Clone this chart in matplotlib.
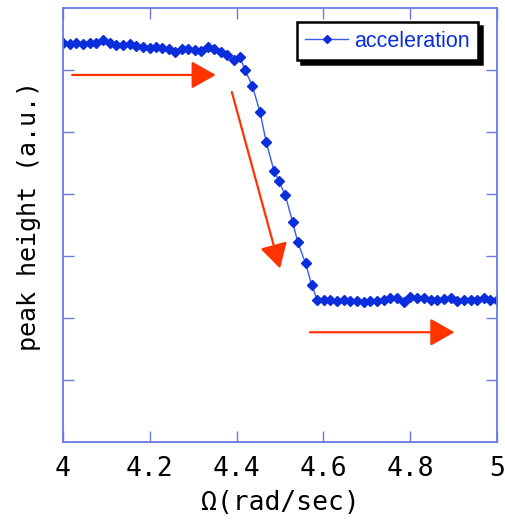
import matplotlib
matplotlib.use("Agg")
import matplotlib.pyplot as plt

# --- data ---
omega = [4.000, 4.016, 4.031, 4.046, 4.062, 4.077, 4.092, 4.108, 4.123, 4.138,
         4.154, 4.169, 4.184, 4.200, 4.215, 4.229, 4.244, 4.259, 4.274, 4.289,
         4.304, 4.319, 4.334, 4.348, 4.363, 4.378, 4.393, 4.408,
         4.419, 4.436, 4.454, 4.468, 4.486, 4.497, 4.512, 4.529, 4.541, 4.559,
         4.573, 4.586,
         4.601, 4.616, 4.631, 4.647, 4.662, 4.677, 4.693, 4.708, 4.724, 4.739,
         4.754, 4.770, 4.785, 4.800, 4.816, 4.831, 4.847, 4.862, 4.877, 4.893,
         4.908, 4.923, 4.939, 4.954, 4.969, 4.985, 4.999]
peak = [6.431, 6.419, 6.440, 6.419, 6.440, 6.431, 6.476, 6.431, 6.403, 6.403,
        6.419, 6.387, 6.366, 6.347, 6.371, 6.360, 6.339, 6.298, 6.335, 6.335,
        6.315, 6.310, 6.363, 6.342, 6.285, 6.234, 6.161, 6.202,
        6.008, 5.747, 5.323, 4.844, 4.376, 4.215, 3.984, 3.553, 3.221, 2.882,
        2.532, 2.290,
        2.290, 2.290, 2.274, 2.290, 2.282, 2.274, 2.263, 2.274, 2.274, 2.290,
        2.318, 2.315, 2.266, 2.339, 2.318, 2.315, 2.290, 2.290, 2.302, 2.318,
        2.274, 2.290, 2.290, 2.290, 2.318, 2.290, 2.290]
series_label = "acceleration"
xticks = [4.0, 4.2, 4.4, 4.6, 4.8, 5.0]
xtick_labels = ["4", "4.2", "4.4", "4.6", "4.8", "5"]
yticks = [1, 2, 3, 4, 5, 6]
xlabel = "Ω(rad/sec)"
ylabel = "peak height (a.u.)"
# arrows: (start x, start y, end x, end y) in data units
arrows = [(4.021, 5.92, 4.352, 5.92),
          (4.389, 5.645, 4.500, 2.80),
          (4.569, 1.77, 4.902, 1.77)]

spine_col = "#6a78e6"
mark_col = "#0a2edc"
line_col = "#3a5af0"
arrow_col = "#ff3300"

fig = plt.figure(figsize=(5.05, 5.20), dpi=100)
ax = fig.add_axes([63/505, 1-442/520, 434/505, 434/520])

ax.plot(omega, peak, color=line_col, lw=1.0, marker="D", markersize=5.4,
        markerfacecolor=mark_col, markeredgecolor=mark_col, label=series_label)

for (x0, y0, x1, y1) in arrows:
    ax.annotate("", xy=(x1, y1), xytext=(x0, y0),
                arrowprops=dict(arrowstyle="-|>,head_length=15,head_width=8.5",
                                mutation_scale=1, color=arrow_col, lw=1.6,
                                shrinkA=0, shrinkB=0))

ax.set_xlim(4.0, 5.0)
ax.set_ylim(0, 7)
ax.set_xticks(xticks)
ax.set_xticklabels(xtick_labels)
ax.set_yticks(yticks)
ax.set_yticklabels([])

mono = "DejaVu Sans Mono"
for lab in ax.get_xticklabels():
    lab.set_fontfamily(mono)
    lab.set_fontsize(19)
ax.tick_params(axis="both", which="both", direction="in", length=8, width=1,
               color=spine_col, top=True, right=True, pad=10)
for sp in ax.spines.values():
    sp.set_color(spine_col)
    sp.set_linewidth(1.3)

ax.set_xlabel(xlabel, fontfamily=mono, fontsize=19, labelpad=6)
ax.set_ylabel(ylabel, fontfamily=mono, fontsize=18)
ax.yaxis.set_label_coords(-0.05, 0.52)

leg = ax.legend(loc="upper right",
                bbox_to_anchor=((478 - 63) / 434, (442 - 22) / 434),
                frameon=True, fancybox=False,
                shadow={"color": "black", "alpha": 1, "ox": 3, "oy": -3},
                prop={"family": "Liberation Sans", "size": 15.5},
                handlelength=2.0, handletextpad=0.25, borderpad=0.4,
                borderaxespad=0, markerscale=0.75)
leg.get_frame().set_edgecolor("black")
leg.get_frame().set_linewidth(1.8)
for t in leg.get_texts():
    t.set_color(mark_col)

fig.savefig("out.png", dpi=100)
